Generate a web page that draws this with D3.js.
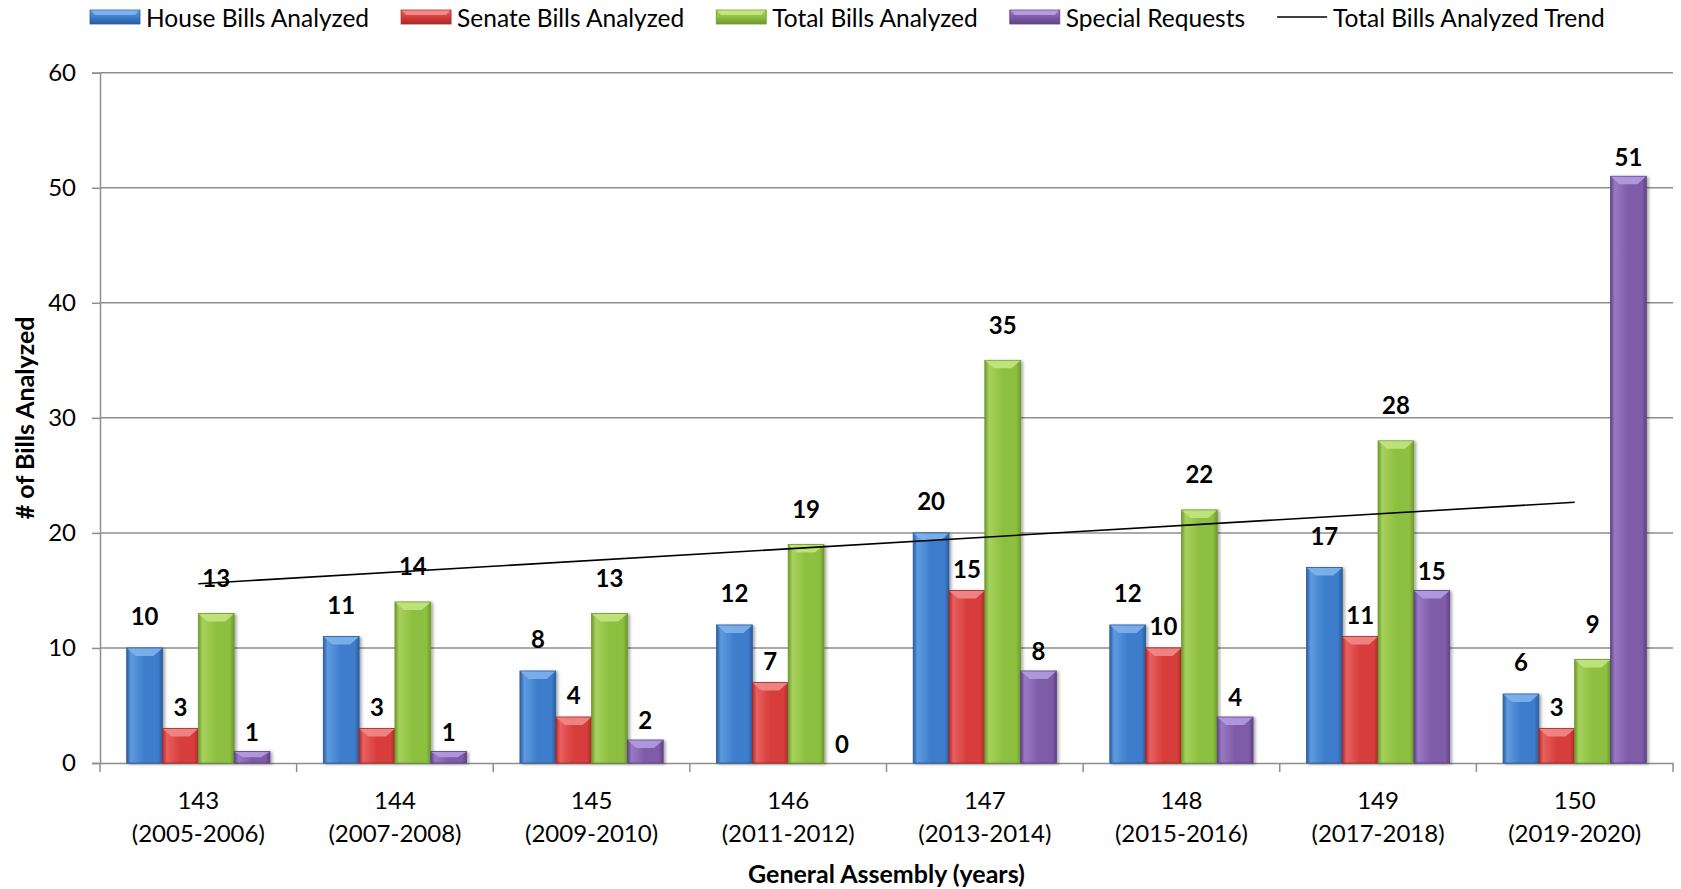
<!DOCTYPE html>
<html>
<head>
<meta charset="utf-8">
<script src="https://cdn.jsdelivr.net/npm/d3@7"></script>
<style>
  html, body { margin: 0; padding: 0; background: #fff; }
  svg { display: block; font-family: Lato, "Open Sans", sans-serif; }
</style>
</head>
<body>
<svg id="chart" width="1681" height="889"></svg>
<script>
// ---- data ----
const categories = ["143", "144", "145", "146", "147", "148", "149", "150"];
const years = ["(2005-2006)", "(2007-2008)", "(2009-2010)", "(2011-2012)", "(2013-2014)", "(2015-2016)", "(2017-2018)", "(2019-2020)"];
const seriesNames = ["House Bills Analyzed", "Senate Bills Analyzed", "Total Bills Analyzed", "Special Requests"];
const houseBills = [10, 11, 8, 12, 20, 12, 17, 6];
const senateBills = [3, 3, 4, 7, 15, 10, 11, 3];
const totalBills = [13, 14, 13, 19, 35, 22, 28, 9];
const specialRequests = [1, 1, 2, 0, 8, 4, 15, 51];
const yTicks = [0, 10, 20, 30, 40, 50, 60];
const trendName = "Total Bills Analyzed Trend";
const yTitle = "# of Bills Analyzed";
const xTitle = "General Assembly (years)";

const seriesValues = [houseBills, senateBills, totalBills, specialRequests];
// styles
const palette = [
  { base: "#3d7dcb", light: "#5e9be0", dark: "#2a5c9e", bevel: "#7fb2ec" },
  { base: "#d63d3b", light: "#e96060", dark: "#a82a29", bevel: "#f08a88" },
  { base: "#8dbf3f", light: "#a6d25c", dark: "#6d9a2c", bevel: "#c2e580" },
  { base: "#7e5ba8", light: "#9a79c4", dark: "#5f4286", bevel: "#b39ce0" }
];
const labelLift = [32, 22, 36, 20]; // px between bar top and label centre, per series

const svg = d3.select("#chart");
const W = 1681, H = 889;
const m = { left: 100, right: 8, top: 72.7, bottom: 126 };
const plotR = W - m.right, plotB = H - m.bottom;

const defs = svg.append("defs");
palette.forEach((p, i) => {
  const g = defs.append("linearGradient").attr("id", "grad" + i).attr("x1", "0").attr("x2", "1").attr("y1", "0").attr("y2", "0");
  g.append("stop").attr("offset", "0%").attr("stop-color", p.dark);
  g.append("stop").attr("offset", "12%").attr("stop-color", p.light);
  g.append("stop").attr("offset", "50%").attr("stop-color", p.base);
  g.append("stop").attr("offset", "88%").attr("stop-color", p.base);
  g.append("stop").attr("offset", "100%").attr("stop-color", p.dark);
  const gv = defs.append("linearGradient").attr("id", "gradv" + i).attr("x1", "0").attr("x2", "0").attr("y1", "0").attr("y2", "1");
  gv.append("stop").attr("offset", "0%").attr("stop-color", p.light);
  gv.append("stop").attr("offset", "50%").attr("stop-color", p.base);
  gv.append("stop").attr("offset", "100%").attr("stop-color", p.dark);
});
const f = defs.append("filter").attr("id", "shadow").attr("x", "-20%").attr("y", "-20%").attr("width", "150%").attr("height", "150%");
f.append("feDropShadow").attr("dx", 2).attr("dy", 1).attr("stdDeviation", 1.6).attr("flood-color", "#000").attr("flood-opacity", 0.35);

// scales
const x0 = d3.scaleBand().domain(categories).range([m.left, plotR]).paddingInner(0).paddingOuter(0);
const x1 = d3.scaleBand().domain(seriesNames).range([0, x0.bandwidth()]).paddingInner(0).paddingOuter(0.745);
const y = d3.scaleLinear().domain([0, 60]).range([plotB, m.top]);

// gridlines
svg.append("g").selectAll("line").data(yTicks.filter(t => t > 0)).join("line")
  .attr("x1", m.left).attr("x2", plotR)
  .attr("y1", d => y(d)).attr("y2", d => y(d))
  .attr("stroke", "#8e8e8e").attr("stroke-width", 1.5);

// y axis
const yAxis = svg.append("g").attr("transform", `translate(${m.left},0)`)
  .call(d3.axisLeft(y).tickValues(yTicks).tickSize(8).tickPadding(16));
yAxis.select(".domain").attr("stroke", "#8e8e8e").attr("stroke-width", 1.5);
yAxis.selectAll(".tick line").attr("stroke", "#8e8e8e").attr("stroke-width", 1.5);
yAxis.selectAll(".tick text").attr("font-size", 24).attr("fill", "#000").attr("font-family", "Lato, sans-serif");

// x axis
const xAxis = svg.append("g").attr("transform", `translate(0,${plotB})`)
  .call(d3.axisBottom(x0).tickSize(0).tickFormat(() => ""));
xAxis.select(".domain").attr("stroke", "#8e8e8e").attr("stroke-width", 1.5);
const boundaries = categories.map(c => x0(c)).concat([plotR]);
svg.append("g").selectAll("line").data(boundaries).join("line")
  .attr("x1", d => d).attr("x2", d => d).attr("y1", plotB).attr("y2", plotB + 9)
  .attr("stroke", "#8e8e8e").attr("stroke-width", 1.5);

const xl = svg.append("g").selectAll("text").data(categories).join("text")
  .attr("x", d => x0(d) + x0.bandwidth() / 2)
  .attr("text-anchor", "middle").attr("font-size", 24).attr("fill", "#000");
xl.append("tspan").attr("x", d => x0(d) + x0.bandwidth() / 2).attr("y", plotB + 46).text(d => d);
xl.append("tspan").attr("x", d => x0(d) + x0.bandwidth() / 2).attr("y", plotB + 79).text((d, i) => years[i]);

// bars
const flat = [];
categories.forEach((c, ci) => seriesNames.forEach((s, si) => flat.push({ c, ci, s, si, v: seriesValues[si][ci] })));

const barG = svg.append("g");
const bars = barG.selectAll("g.bar").data(flat).join("g").attr("class", "bar");
bars.append("rect")
  .attr("x", d => x0(d.c) + x1(d.s))
  .attr("y", d => y(d.v))
  .attr("width", x1.bandwidth())
  .attr("height", d => y(0) - y(d.v))
  .attr("fill", d => `url(#grad${d.si})`)
  .attr("stroke", d => palette[d.si].dark).attr("stroke-width", 0.8)
  .attr("filter", "url(#shadow)")
  .style("display", d => d.v > 0 ? null : "none");
// top bevel
bars.filter(d => d.v > 0).append("path")
  .attr("d", d => {
    const xl = x0(d.c) + x1(d.s), w = x1.bandwidth(), yt = y(d.v);
    const h = Math.min(8, (y(0) - yt) / 2), inset = 9;
    return `M${xl + 0.5},${yt + 0.5} L${xl + w - 0.5},${yt + 0.5} L${xl + w - inset},${yt + h} L${xl + inset},${yt + h} Z`;
  })
  .attr("fill", d => palette[d.si].bevel).attr("opacity", 0.9);

// data labels
svg.append("g").selectAll("text").data(flat).join("text")
  .attr("x", d => x0(d.c) + x1(d.s) + x1.bandwidth() / 2)
  .attr("y", d => y(d.v) - labelLift[d.si])
  .attr("dominant-baseline", "central")
  .attr("text-anchor", "middle").attr("font-size", 24).attr("font-weight", "bold").attr("fill", "#000")
  .text(d => d.v);

// trend line (least squares on total bills)
const xs = totalBills.map((_, i) => i + 1);
const mx = d3.mean(xs), my = d3.mean(totalBills);
const slope = d3.sum(xs.map((xv, i) => (xv - mx) * (totalBills[i] - my))) / d3.sum(xs.map(xv => (xv - mx) ** 2));
const intercept = my - slope * mx;
const trendPts = [0, categories.length - 1].map(i => ({ c: categories[i], v: intercept + slope * (i + 1) }));
svg.append("path")
  .datum(trendPts)
  .attr("d", d3.line().x(d => x0(d.c) + x0.bandwidth() / 2).y(d => y(d.v)))
  .attr("stroke", "#000").attr("stroke-width", 1.6).attr("fill", "none");

// axis titles
svg.append("text").attr("transform", `translate(24,${(m.top + plotB) / 2}) rotate(-90)`)
  .attr("text-anchor", "middle").attr("dominant-baseline", "central")
  .attr("font-size", 25).attr("font-weight", "bold").text(yTitle);
svg.append("text").attr("x", (m.left + plotR) / 2).attr("y", 883)
  .attr("text-anchor", "middle").attr("font-size", 25).attr("font-weight", "bold").text(xTitle);

// legend
const legend = svg.append("g");
let lx = 90;
const ly = 17;
const legendItems = seriesNames.map((s, i) => ({ s, i, type: "bar" })).concat([{ s: trendName, type: "line" }]);
legendItems.forEach(item => {
  const g = legend.append("g");
  if (item.type === "bar") {
    g.append("rect").attr("x", lx).attr("y", ly - 7).attr("width", 50).attr("height", 14)
      .attr("fill", `url(#gradv${item.i})`).attr("stroke", palette[item.i].dark).attr("stroke-width", 0.8);
    g.append("path").attr("d", `M${lx + 1},${ly - 6.5} L${lx + 49},${ly - 6.5} L${lx + 45},${ly - 2} L${lx + 5},${ly - 2} Z`)
      .attr("fill", palette[item.i].bevel);
  } else {
    g.append("line").attr("x1", lx).attr("x2", lx + 50).attr("y1", ly).attr("y2", ly)
      .attr("stroke", "#000").attr("stroke-width", 1.6);
  }
  const t = g.append("text").attr("x", lx + 56).attr("y", ly).attr("dominant-baseline", "central")
    .attr("font-size", 24.5).attr("fill", "#000").text(item.s);
  lx += 56 + t.node().getComputedTextLength() + 32;
});
</script>
</body>
</html>
